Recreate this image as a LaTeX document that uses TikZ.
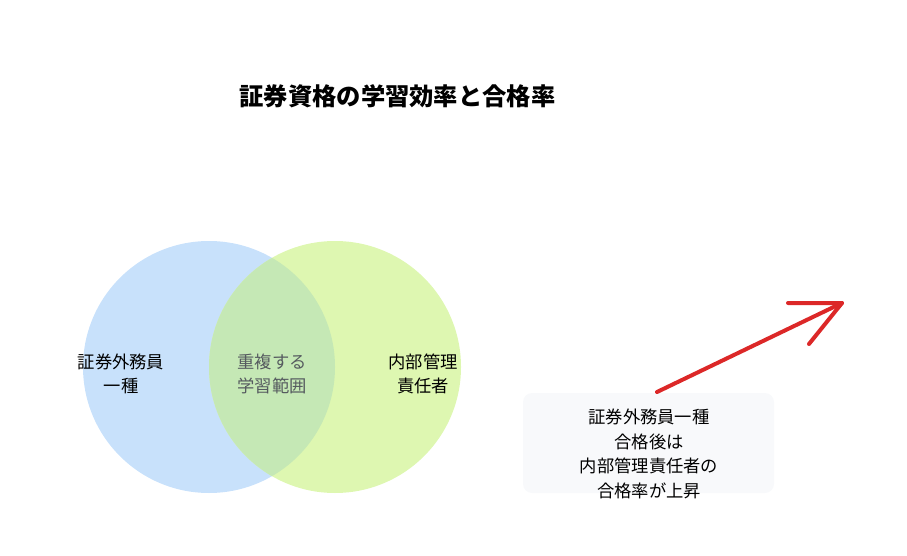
\documentclass[tikz,border=0pt]{standalone}
\usepackage{fontspec}
\setmainfont{Noto Sans CJK JP}
\definecolor{cblue}{RGB}{200,225,251}
\definecolor{cgreen}{RGB}{222,247,177}
\definecolor{cover}{RGB}{197,232,181}
\definecolor{cred}{RGB}{220,40,40}
\definecolor{boxfill}{RGB}{248,249,251}
\definecolor{midtext}{RGB}{85,90,95}
\begin{document}
\begin{tikzpicture}[x=1pt,y=-1pt,
  lbl/.style={font=\fontsize{17.3}{24.5}\selectfont, align=center, text=black, inner sep=0pt},
  redline/.style={draw=cred, line width=4pt, line cap=round, line join=round}]
\useasboundingbox (0,0) rectangle (907,556);
\fill[cblue] (209,367) circle (126);
\fill[cgreen] (335,367) circle (126);
\begin{scope}
\clip (209,367) circle (126);
\fill[cover] (335,367) circle (126);
\end{scope}
\node[font=\bfseries\fontsize{24.3}{28}\selectfont, inner sep=0pt] (title) at (397.5,96) {証券資格の学習効率と合格率};
\node[lbl] (left) at (121,374) {証券外務員\\一種};
\node[lbl, text=midtext] (mid) at (272,374) {重複する\\学習範囲};
\node[lbl] (right) at (423,374) {内部管理\\責任者};
\node[fill=boxfill, rounded corners=9pt, minimum width=251pt, minimum height=100pt, inner sep=0pt] (box) at (648.5,443) {};
\node[lbl, anchor=north] (boxtext) at (649,409) {証券外務員一種\\合格後は\\内部管理責任者の\\合格率が上昇};
\coordinate (tail) at (657,392);
\coordinate (tip) at (842,303);
\coordinate (b1) at (788,303);
\coordinate (b2) at (809,344);
\draw[redline] (tail) -- (tip);
\draw[redline] (b1) -- (tip) -- (b2);
\end{tikzpicture}
\end{document}
